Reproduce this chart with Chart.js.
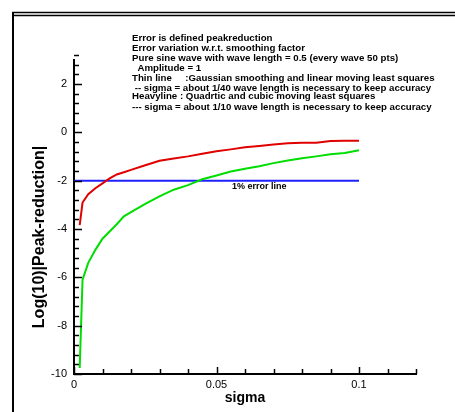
<!DOCTYPE html>
<html>
<head>
<meta charset="utf-8">
<script src="https://cdn.jsdelivr.net/npm/chart.js@4/dist/chart.umd.min.js"></script>
<style>
  html, body { margin: 0; padding: 0; background: #fff; }
  #wrap { width: 455px; height: 412px; position: relative; }
</style>
</head>
<body>
<div id="wrap"><canvas id="c" width="455" height="412"></canvas></div>
<script>
// ---- data ----
const sigma = [0.002, 0.003, 0.005, 0.0075, 0.01, 0.0125, 0.015, 0.0175, 0.02, 0.025, 0.03, 0.035, 0.04, 0.045, 0.05, 0.055, 0.06, 0.065, 0.07, 0.075, 0.08, 0.085, 0.09, 0.095, 0.1];
const thinLine = [-3.84, -2.9, -2.56, -2.31, -2.11, -1.9, -1.74, -1.65, -1.55, -1.36, -1.17, -1.08, -0.99, -0.88, -0.78, -0.70, -0.61, -0.56, -0.50, -0.45, -0.43, -0.43, -0.35, -0.34, -0.34];
const heavyLine = [-9.75, -6.1, -5.4, -4.86, -4.4, -4.1, -3.8, -3.47, -3.3, -2.96, -2.65, -2.37, -2.18, -1.94, -1.78, -1.62, -1.5, -1.4, -1.27, -1.16, -1.07, -0.99, -0.90, -0.85, -0.74];
const errorLineX = [0, 0.1];
const errorLineY = [-2, -2];
const errorLineLabel = "1% error line";
const xTitle = "sigma";
const yTitle = "Log(10)|Peak-reduction|";
const xRange = [0, 0.12];
const yRange = [-10, 3];
const xMajor = 0.05, xMinor = 0.01;
const yMajor = 2, yMinor = 0.4;
const notes = [
  "Error is defined peakreduction",
  "Error variation w.r.t. smoothing factor",
  "Pure sine wave with wave length = 0.5 (every wave 50 pts)",
  "  Amplitude = 1",
  "Thin line     :Gaussian smoothing and linear moving least squares",
  " -- sigma = about 1/40 wave length is necessary to keep accuracy",
  "Heavyline : Quadrtic and cubic moving least squares",
  "--- sigma = about 1/10 wave length is necessary to keep accuracy"
];

const toXY = (xs, ys) => xs.map((x, i) => ({ x: x, y: ys[i] }));
const FONT = "'Liberation Sans', Arial, sans-serif";

const decor = {
  id: 'decor',
  afterDraw(chart) {
    const ctx = chart.ctx;
    const xs = chart.scales.x, ys = chart.scales.y;
    const area = chart.chartArea;
    ctx.save();
    // frame: left line and double top line
    ctx.strokeStyle = '#000';
    ctx.lineWidth = 2;
    ctx.beginPath(); ctx.moveTo(13, 12); ctx.lineTo(13, 412); ctx.stroke();
    ctx.lineWidth = 1.3;
    ctx.beginPath(); ctx.moveTo(12, 12.5); ctx.lineTo(455, 12.5); ctx.stroke();
    ctx.beginPath(); ctx.moveTo(12, 15.5); ctx.lineTo(455, 15.5); ctx.stroke();

    // inward ticks
    ctx.lineWidth = 1.5;
    const nx = Math.round((xRange[1] - xRange[0]) / xMinor);
    for (let i = 0; i <= nx; i++) {
      const v = xRange[0] + i * xMinor;
      const major = Math.abs(v / xMajor - Math.round(v / xMajor)) < 1e-6;
      const px = Math.round(xs.getPixelForValue(v)) + 0.5;
      ctx.beginPath();
      ctx.moveTo(px, area.bottom);
      ctx.lineTo(px, area.bottom - (major ? 7 : 5));
      ctx.stroke();
    }
    const ny = Math.round((yRange[1] - yRange[0]) / yMinor);
    for (let i = 0; i <= ny; i++) {
      const v = yRange[0] + i * yMinor;
      const major = Math.abs(v / yMajor - Math.round(v / yMajor)) < 1e-6;
      const py = Math.round(ys.getPixelForValue(v)) + 0.5;
      ctx.beginPath();
      ctx.moveTo(area.left, py);
      ctx.lineTo(area.left + (major ? 8 : 5), py);
      ctx.stroke();
    }

    // y axis title
    ctx.fillStyle = '#000';
    ctx.save();
    ctx.translate(40, 237);
    ctx.rotate(-Math.PI / 2);
    ctx.font = 'bold 16px ' + FONT;
    ctx.textAlign = 'center';
    ctx.textBaseline = 'middle';
    ctx.fillText(yTitle, 0, 0);
    ctx.restore();

    // notes
    ctx.font = 'bold 9.7px ' + FONT;
    ctx.textBaseline = 'middle';
    ctx.textAlign = 'left';
    const rowsY = [38, 48, 58, 68, 78, 88, 96, 107];
    notes.forEach((t, i) => ctx.fillText(t, 132, rowsY[i]));

    // error line label
    ctx.font = 'bold 9px ' + FONT;
    ctx.textAlign = 'center';
    ctx.fillText(errorLineLabel, xs.getPixelForValue(0.065), ys.getPixelForValue(-2.25));
    ctx.restore();
  }
};

new Chart(document.getElementById('c'), {
  type: 'line',
  data: {
    datasets: [
      { label: 'thin', data: toXY(sigma, thinLine), borderColor: '#e00000', borderWidth: 2, pointRadius: 0, tension: 0, fill: false },
      { label: 'heavy', data: toXY(sigma, heavyLine), borderColor: '#00dd00', borderWidth: 2, pointRadius: 0, tension: 0, fill: false },
      { label: 'error', data: toXY(errorLineX, errorLineY), borderColor: '#2020ff', borderWidth: 2, pointRadius: 0, tension: 0, fill: false }
    ]
  },
  plugins: [decor],
  options: {
    responsive: false,
    animation: false,
    events: [],
    layout: { padding: { top: 60, right: 39, bottom: 0, left: 0 } },
    plugins: { legend: { display: false }, tooltip: { enabled: false } },
    scales: {
      x: {
        type: 'linear', min: xRange[0], max: xRange[1],
        afterFit: s => { s.height = 38; },
        grid: { display: false, drawTicks: false },
        border: { display: true, color: '#000', width: 2 },
        ticks: {
          stepSize: xMajor, includeBounds: false, color: '#000', padding: 4,
          font: { family: FONT, size: 11 },
          callback: v => String(Number(v.toFixed(3)))
        },
        title: { display: true, text: xTitle, color: '#000', padding: { top: 5, bottom: 5 }, font: { family: FONT, size: 14, weight: 'bold' } }
      },
      y: {
        type: 'linear', min: yRange[0], max: yRange[1],
        afterFit: s => { s.width = 74; },
        grid: { display: false, drawTicks: false },
        border: { display: true, color: '#000', width: 2 },
        ticks: {
          stepSize: yMajor, includeBounds: false, color: '#000', padding: 7,
          font: { family: FONT, size: 11 },
          callback: v => String(v)
        },
        title: { display: false }
      }
    }
  }
});
</script>
</body>
</html>
